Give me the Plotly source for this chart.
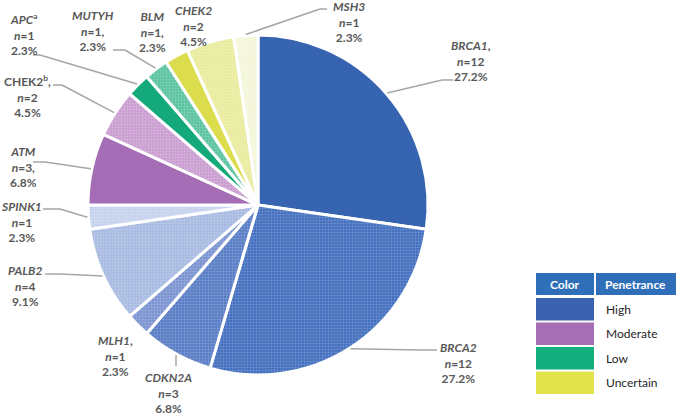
import math
import plotly.graph_objects as go

W, H = 680, 416

# slices, clockwise from 12 o'clock
genes = ["BRCA1", "BRCA2", "CDKN2A", "MLH1", "PALB2", "SPINK1", "ATM",
         "CHEK2b", "APC", "MUTYH", "BLM", "CHEK2", "MSH3"]
counts = [12, 12, 3, 1, 4, 1, 3, 2, 1, 1, 1, 2, 1]
label_texts = [
    "<i>BRCA1</i>,<br><i>n</i>=12<br>27.2%",
    "<i>BRCA2</i><br><i>n</i>=12<br>27.2%",
    "<i>CDKN2A</i><br><i>n</i>=3<br>6.8%",
    "<i>MLH1</i>,<br><i>n</i>=1<br>2.3%",
    "<i>PALB2</i><br><i>n</i>=4<br>9.1%",
    "<i>SPINK1</i><br><i>n</i>=1<br>2.3%",
    "<i>ATM</i><br><i>n</i>=3,<br>6.8%",
    "CHEK2<sup>b</sup>,<br><i>n</i>=2<br>4.5%",
    "<i>APC</i><sup>a</sup><br><i>n</i>=1<br>2.3%",
    "<i>MUTYH</i><br><i>n</i>=1,<br>2.3%",
    "<i>BLM</i><br><i>n</i>=1,<br>2.3%",
    "<i>CHEK2</i><br><i>n</i>=2<br>4.5%",
    "<i>MSH3</i><br><i>n</i>=1<br>2.3%",
]
slice_colors = ["#3764B0", "#4470BF", "#5A7DC6", "#7C95D2", "#A9BBE2", "#C6D2EE",
                "#A56DB5", "#CB9ED2", "#14A97A", "#5CC4A2", "#DCDD4C", "#E9EC9E", "#F4F6DA"]
textured = [False, True, True, True, True, True, False, True, False, True, False, True, True]

penetrance = ["High", "Moderate", "Low", "Uncertain"]
pen_colors = ["#3A62B0", "#A56EB5", "#13B07E", "#E2E34A"]

# pie geometry in pixels
cx, cy, R = 258, 205, 170

# label centre (px) and leader line start/elbow (px), None = no leader
label_pos = [(471, 61), (458, 363), (168, 393), (115, 356), (25, 286), (21, 222),
             (23, 167), (27, 97), (24, 34), (93, 31), (152, 32), (193, 26), (349, 22)]
leaders = [[(453, 80), (442, 80)], [(437, 350), (420, 350)], [(176, 366), (176, 362)], None,
           [(45, 274), (60, 274)], [(43, 209), (60, 209)], [(33, 162), (45, 162)],
           [(53, 85), (62, 85)], [(33, 55), (40, 55)], [(113, 50), (125, 50)], None, None,
           [(327, 9), (320, 9)]]


def px(x, y):
    return x / W, 1 - y / H


fig = go.Figure()

pat_fg = ["rgba(255,255,255,0.3)" if t else c for c, t in zip(slice_colors, textured)]

fig.add_trace(go.Pie(
    labels=genes, values=counts, sort=False, direction="clockwise", rotation=0,
    textinfo="none", hoverinfo="label+value",
    marker=dict(colors=slice_colors, line=dict(color="white", width=3),
                pattern=dict(shape=["+" if t else "" for t in textured],
                             bgcolor=slice_colors, fgcolor=pat_fg,
                             size=3, solidity=0.25)),
    domain=dict(x=[(cx - R) / W, (cx + R) / W], y=[1 - (cy + R) / H, 1 - (cy - R) / H]),
    showlegend=False,
))

shapes = []
annotations = []
total = sum(counts)
cum = 0
for i, n in enumerate(counts):
    mid = (cum + n / 2) / total * 2 * math.pi
    cum += n
    tip = (cx + (R + 1) * math.sin(mid), cy - (R + 1) * math.cos(mid))
    if leaders[i]:
        pts = leaders[i] + [tip]
        for a, b in zip(pts[:-1], pts[1:]):
            x0, y0 = px(*a)
            x1, y1 = px(*b)
            shapes.append(dict(type="line", xref="paper", yref="paper", x0=x0, y0=y0, x1=x1, y1=y1,
                               line=dict(color="#A6A6A6", width=1.5)))
    lx, ly = px(*label_pos[i])
    annotations.append(dict(x=lx, y=ly, xref="paper", yref="paper", text="<b>" + label_texts[i] + "</b>",
                            showarrow=False, xanchor="center", yanchor="middle", align="center",
                            font=dict(family="Lato", size=12, color="#595959")))

# legend table
lx0, lx1, lx2, lx3 = 536, 594, 596, 676
hy0, hy1 = 273, 295


def rect(x0, y0, x1, y1, color):
    a0, b0 = px(x0, y0)
    a1, b1 = px(x1, y1)
    return dict(type="rect", xref="paper", yref="paper", x0=a0, y0=b1, x1=a1, y1=b0,
                fillcolor=color, line=dict(width=0), layer="above")


header_blue = "#2F6FBA"
shapes.append(rect(lx0, hy0, lx1, hy1, header_blue))
shapes.append(rect(lx2, hy0, lx3, hy1, header_blue))
annotations.append(dict(x=565 / W, y=1 - 284 / H, xref="paper", yref="paper", text="<b>Color</b>",
                        showarrow=False, xanchor="center", yanchor="middle",
                        font=dict(family="Lato", size=12, color="white")))
annotations.append(dict(x=603 / W, y=1 - 284 / H, xref="paper", yref="paper", text="<b>Penetrance</b>",
                        showarrow=False, xanchor="left", yanchor="middle",
                        font=dict(family="Lato", size=12, color="white")))
row_h = 24.5
for k, (name, col) in enumerate(zip(penetrance, pen_colors)):
    y0 = 298 + k * row_h
    y1 = y0 + row_h - 2
    shapes.append(rect(lx0, y0, lx1, y1, col))
    annotations.append(dict(x=604 / W, y=1 - (y0 + y1) / 2 / H, xref="paper", yref="paper", text=name,
                            showarrow=False, xanchor="left", yanchor="middle",
                            font=dict(family="Lato", size=12, color="#262626")))

fig.update_layout(
    width=W, height=H, margin=dict(l=0, r=0, t=0, b=0),
    paper_bgcolor="white", plot_bgcolor="white",
    shapes=shapes, annotations=annotations,
)

fig.write_html("out.html", config={"displayModeBar": False},
               post_script="document.body.style.margin='0px';")
